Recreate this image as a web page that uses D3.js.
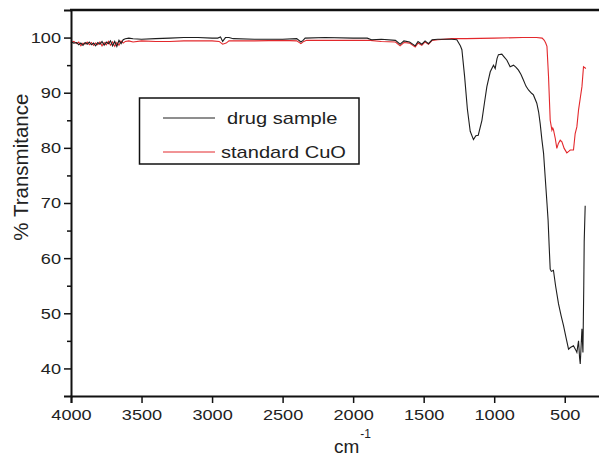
<!DOCTYPE html>
<html>
<head>
<meta charset="utf-8">
<script src="https://cdn.jsdelivr.net/npm/d3@7"></script>
<style>
  body { margin: 0; background: #fff; }
  svg { display: block; font-family: "Liberation Sans", Arial, sans-serif; }
</style>
</head>
<body>
<svg id="chart" width="599" height="456"></svg>
<script>
// wavenumber (cm-1) / % transmittance
var drugWn = [4000, 3980, 3960, 3945, 3930, 3915, 3900, 3885, 3870, 3855, 3840, 3825, 3810, 3795, 3780, 3765, 3750, 3735, 3720, 3705, 3690, 3675, 3660, 3645, 3630, 3615, 3590, 3560, 3500, 3400, 3300, 3200, 3100, 3000, 2960, 2940, 2925, 2905, 2880, 2850, 2700, 2500, 2400, 2370, 2355, 2340, 2200, 2000, 1900, 1870, 1800, 1700, 1667, 1640, 1600, 1560, 1540, 1513, 1490, 1466, 1440, 1400, 1300, 1265, 1240, 1229, 1210, 1190, 1170, 1147, 1130, 1113, 1087, 1070, 1052, 1028, 1005, 993, 980, 970, 946, 930, 910, 887, 863, 845, 828, 810, 793, 775, 757, 735, 722, 698, 685, 674, 662, 650, 638, 626, 618, 610, 603, 595, 580, 565, 544, 525, 509, 490, 473, 460, 438, 425, 414, 408, 402, 395, 390, 384, 378, 371, 365, 362, 355];
var drugT  = [99.2, 99.0, 99.1, 98.7, 99.0, 98.6, 99.1, 98.8, 99.2, 98.7, 99.0, 98.5, 99.1, 98.8, 99.3, 98.6, 99.2, 98.9, 99.4, 98.5, 99.3, 98.4, 99.5, 98.9, 99.6, 99.8, 99.9, 99.8, 99.7, 99.8, 99.9, 100.0, 100.0, 99.9, 99.9, 100.1, 99.3, 100.0, 100.0, 99.8, 99.7, 99.7, 99.8, 99.2, 99.5, 99.9, 100.0, 99.9, 99.9, 99.6, 99.7, 99.5, 98.8, 99.4, 99.2, 98.5, 99.3, 98.8, 99.4, 98.9, 99.6, 99.7, 99.7, 99.6, 98.5, 97.8, 93.0, 87.0, 83.0, 81.5, 82.2, 82.3, 85.0, 88.0, 91.1, 93.8, 95.0, 94.4, 96.2, 96.9, 97.0, 96.5, 95.9, 94.7, 95.0, 94.6, 94.1, 93.3, 92.3, 91.2, 90.5, 89.9, 89.6, 88.1, 86.5, 84.4, 81.5, 79.0, 74.5, 70.0, 66.9, 62.0, 58.0, 57.6, 57.8, 55.0, 51.7, 49.5, 47.8, 45.5, 43.5, 43.8, 44.1, 43.5, 42.9, 44.0, 45.0, 42.0, 40.8, 44.0, 47.2, 42.9, 55.0, 63.0, 69.5];

var cuoWn = [4000, 3980, 3960, 3945, 3930, 3915, 3900, 3885, 3870, 3855, 3840, 3825, 3810, 3795, 3780, 3765, 3750, 3735, 3720, 3705, 3690, 3675, 3660, 3645, 3630, 3615, 3590, 3560, 3500, 3400, 3300, 3200, 3100, 3000, 2950, 2925, 2900, 2880, 2700, 2500, 2400, 2370, 2350, 2330, 2200, 2000, 1880, 1800, 1700, 1667, 1640, 1600, 1560, 1540, 1513, 1490, 1466, 1440, 1400, 1300, 1200, 1000, 800, 700, 660, 645, 635, 626, 615, 603, 591, 585, 580, 567, 556, 545, 532, 520, 504, 485, 470, 461, 438, 426, 414, 402, 390, 378, 367, 350];
var cuoT  = [99.1, 99.3, 98.9, 99.2, 98.5, 99.0, 98.8, 99.2, 98.7, 99.1, 98.6, 99.0, 98.7, 99.2, 98.5, 99.1, 98.7, 99.3, 98.6, 99.2, 98.4, 99.1, 98.6, 99.4, 99.0, 99.3, 99.4, 99.2, 99.4, 99.3, 99.3, 99.4, 99.4, 99.4, 99.3, 98.8, 99.0, 99.4, 99.4, 99.5, 99.4, 98.9, 99.3, 99.5, 99.5, 99.5, 99.5, 99.3, 99.2, 98.5, 99.1, 99.0, 98.3, 99.0, 98.6, 99.2, 98.8, 99.5, 99.6, 99.8, 99.8, 99.9, 100.0, 100.0, 99.9, 99.5, 99.0, 98.4, 93.0, 85.0, 83.2, 83.6, 83.3, 81.7, 79.9, 80.8, 81.4, 81.1, 79.9, 79.1, 79.4, 79.6, 79.6, 82.6, 83.8, 86.9, 89.0, 91.1, 94.7, 94.4];

var xTicks = [4000, 3500, 3000, 2500, 2000, 1500, 1000, 500];
var yTicks = [40, 50, 60, 70, 80, 90, 100];
var yMinor = [45, 55, 65, 75, 85, 95];
var seriesNames = ["drug sample", "standard CuO"];
var seriesColors = ["#1e1e1e", "#e3282c"];

var svg = d3.select("#chart");
var x = d3.scaleLinear().domain([4000, 250]).range([71, 600]);
var y = d3.scaleLinear().domain([35, 105]).range([396, 10]);

// stretch text a bit wider, the original font runs wide
function widen(sel, k) {
  sel.each(function() {
    var w = this.getComputedTextLength();
    d3.select(this).attr("textLength", w * k).attr("lengthAdjust", "spacingAndGlyphs");
  });
}

var line = d3.line()
  .x(function(d) { return x(d[0]); })
  .y(function(d) { return y(d[1]); });

var drug = drugWn.map(function(w, i) { return [w, drugT[i]]; });
var cuo = cuoWn.map(function(w, i) { return [w, cuoT[i]]; });

svg.append("path").datum(cuo)
  .attr("d", line).attr("fill", "none")
  .attr("stroke", seriesColors[1]).attr("stroke-width", 1.1);
svg.append("path").datum(drug)
  .attr("d", line).attr("fill", "none")
  .attr("stroke", seriesColors[0]).attr("stroke-width", 1.1);

// axes
var gx = svg.append("g").attr("transform", "translate(0,396)")
  .call(d3.axisBottom(x).tickValues(xTicks).tickFormat(d3.format("d"))
    .tickSizeOuter(0).tickSize(7).tickPadding(6));
var gy = svg.append("g").attr("transform", "translate(71,0)")
  .call(d3.axisLeft(y).tickValues(yTicks).tickFormat(d3.format("d"))
    .tickSizeOuter(0).tickSize(7).tickPadding(3));
svg.append("g").attr("transform", "translate(71,0)")
  .call(d3.axisLeft(y).tickValues(yMinor).tickSize(4).tickSizeOuter(0).tickFormat(""))
  .select(".domain").remove();

[gx, gy].forEach(function(g) {
  g.select(".domain").attr("stroke", "#111").attr("stroke-width", 2);
  g.selectAll(".tick text").attr("fill", "#222")
    .style("font-size", "15.5px").style("font-family", "'Liberation Sans', Arial, sans-serif");
});
svg.selectAll(".tick line").attr("stroke", "#111").attr("stroke-width", 1.5);
widen(gx.selectAll(".tick text"), 1.17);
widen(gy.selectAll(".tick text"), 1.17);

// top frame line
svg.append("line").attr("x1", x(4000) - 1).attr("x2", 599)
  .attr("y1", y(105)).attr("y2", y(105))
  .attr("stroke", "#111").attr("stroke-width", 2.5);

// axis titles
svg.append("text")
  .attr("transform", "translate(28," + y(76.5) + ") rotate(-90)")
  .attr("text-anchor", "middle").attr("fill", "#222")
  .style("font-size", "20.5px")
  .text("% Transmitance");

var xt = svg.append("text").attr("x", 334).attr("y", 453).attr("fill", "#222")
  .style("font-size", "19px");
xt.append("tspan").text("cm");
xt.append("tspan").attr("dy", -15).attr("dx", 1).style("font-size", "12px").text("-1");

// legend
var lg = svg.append("g");
lg.append("rect").attr("x", 139.5).attr("y", 98).attr("width", 219.5).attr("height", 66)
  .attr("fill", "#fff").attr("stroke", "#111").attr("stroke-width", 1.5);
var items = lg.selectAll(".item").data(seriesNames).enter().append("g")
  .attr("transform", function(d, i) { return "translate(0," + (118 + i * 34) + ")"; });
items.append("line").attr("x1", 163).attr("x2", 215).attr("y1", 0).attr("y2", 0)
  .attr("stroke", function(d, i) { return seriesColors[i]; }).attr("stroke-width", 1);
var lt = items.append("text")
  .attr("x", function(d, i) { return i === 0 ? 227 : 221; })
  .attr("dy", "0.35em").attr("fill", "#222")
  .style("font-size", "17px")
  .text(function(d) { return d; });
widen(lt, 1.18);
</script>
</body>
</html>
